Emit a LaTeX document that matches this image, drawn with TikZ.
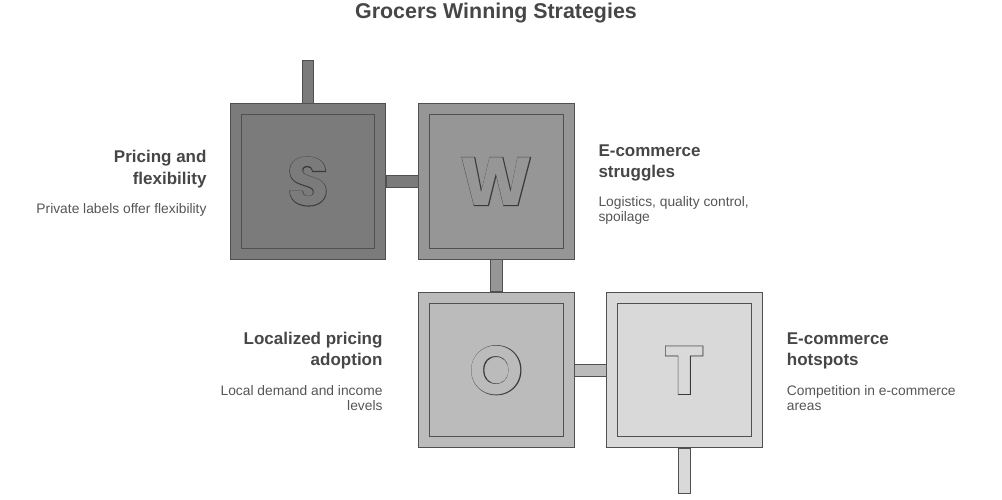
\documentclass[tikz,border=0pt]{standalone}
\usepackage{fontspec}
\setmainfont{Liberation Sans}
\newfontfamily\letterfont{Poppins}
\definecolor{edge}{HTML}{505050}
\definecolor{ledge}{HTML}{3A3A3A}
\definecolor{cS}{HTML}{7B7B7B}
\definecolor{cW}{HTML}{969696}
\definecolor{cO}{HTML}{BBBBBB}
\definecolor{cT}{HTML}{D9D9D9}
\definecolor{headc}{HTML}{464646}
\definecolor{descc}{HTML}{555555}
\tikzset{
  outerbox/.style={draw=edge, line width=1pt, fill=#1, minimum size=155.5pt, inner sep=0pt},
  innerbox/.style={draw=edge, line width=1pt, fill=#1, minimum size=133.5pt, inner sep=0pt},
  bar/.style={draw=edge, line width=1pt, fill=#1},
  letterline/.style={inner sep=0pt, text=ledge, font=\fontsize{68}{70}\selectfont\letterfont\bfseries\addfontfeatures{FakeBold=2.0}},
  letterfill/.style={inner sep=0pt, text=#1, font=\fontsize{68}{70}\selectfont\letterfont\bfseries},
  titletext/.style={inner sep=0pt, text=headc, font=\fontsize{21.4}{24}\selectfont\bfseries},
  headtext/.style={inner sep=0pt, text=headc, font=\fontsize{17}{20}\selectfont\bfseries},
  desctext/.style={inner sep=0pt, text=descc, font=\fontsize{13.8}{16}\selectfont},
}
\begin{document}
\begin{tikzpicture}[x=1pt,y=-1pt]
\useasboundingbox (0,0) rectangle (1002,499);
% title
\node[titletext, anchor=base] (title) at (496,18.5) {Grocers Winning Strategies};
% boxes
\node[outerbox=cS] (S) at (308,181.5) {};
\node[outerbox=cW] (W) at (496.3,181.5) {};
\node[outerbox=cO] (O) at (496.3,370.2) {};
\node[outerbox=cT] (T) at (684.3,370.2) {};
\node[innerbox=cS] (Si) at (S.center) {};
\node[innerbox=cW] (Wi) at (W.center) {};
\node[innerbox=cO] (Oi) at (O.center) {};
\node[innerbox=cT] (Ti) at (T.center) {};
% letters (outline + fill)
\node[letterline] (Slo) at (S.center) {S};
\node[letterfill=cS] (Sl) at (S.center) {S};
\node[letterline] (Wlo) at (W.center) {W};
\node[letterfill=cW] (Wl) at (W.center) {W};
\node[letterline] (Olo) at (O.center) {O};
\node[letterfill=cO] (Ol) at (O.center) {O};
\node[letterline] (Tlo) at (T.center) {T};
\node[letterfill=cT] (Tl) at (T.center) {T};
% connectors
\coordinate (Stop) at (308,60);
\coordinate (Tbot) at (684.3,493);
\draw[bar=cS] ([xshift=-5.75pt]S.north) rectangle ([xshift=5.75pt]Stop);
\draw[bar=cS] ([yshift=6pt]S.east) rectangle ([yshift=-6pt]W.west);
\draw[bar=cW] ([xshift=-6pt]W.south) rectangle ([xshift=6pt]O.north);
\draw[bar=cO] ([yshift=6pt]O.east) rectangle ([yshift=-6pt]T.west);
\draw[bar=cT] ([xshift=-5.75pt]T.south) rectangle ([xshift=5.75pt]Tbot);
% S texts
\node[headtext, anchor=base east] (sh1) at (206.7,162.7) {Pricing and};
\node[headtext, anchor=base east] (sh2) at (206.7,184) {flexibility};
\node[desctext, anchor=base east] (sd1) at (206.7,213.5) {Private labels offer flexibility};
% W texts
\node[headtext, anchor=base west] (wh1) at (598.3,156) {E-commerce};
\node[headtext, anchor=base west] (wh2) at (598.3,177.5) {struggles};
\node[desctext, anchor=base west] (wd1) at (598.3,206.5) {Logistics, quality control,};
\node[desctext, anchor=base west] (wd2) at (598.3,221) {spoilage};
% O texts
\node[headtext, anchor=base east] (oh1) at (382.7,344) {Localized pricing};
\node[headtext, anchor=base east] (oh2) at (382.7,365.5) {adoption};
\node[desctext, anchor=base east] (od1) at (382.7,395) {Local demand and income};
\node[desctext, anchor=base east] (od2) at (382.7,410.5) {levels};
% T texts
\node[headtext, anchor=base west] (th1) at (786.7,344) {E-commerce};
\node[headtext, anchor=base west] (th2) at (786.7,365.5) {hotspots};
\node[desctext, anchor=base west] (td1) at (786.7,395) {Competition in e-commerce};
\node[desctext, anchor=base west] (td2) at (786.7,410.5) {areas};
\end{tikzpicture}
\end{document}
